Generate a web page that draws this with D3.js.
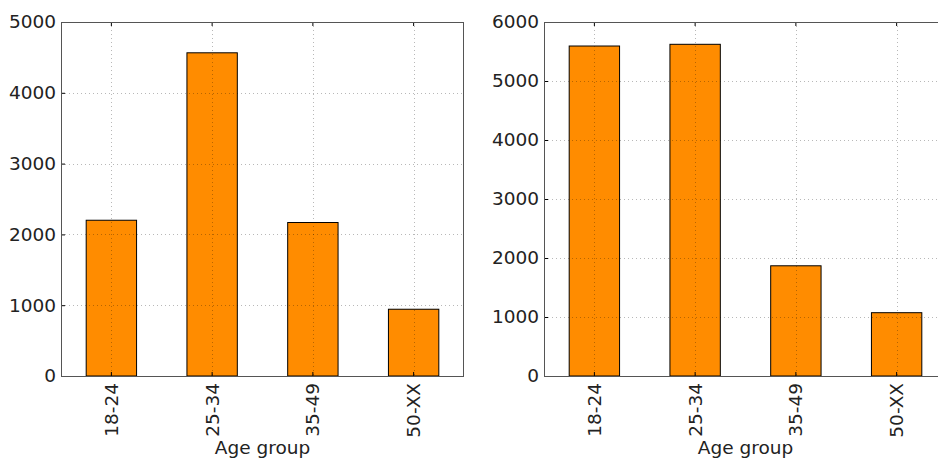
<!DOCTYPE html>
<html>
<head>
<meta charset="utf-8">
<script src="https://cdn.jsdelivr.net/npm/d3@7"></script>
<style>
  body { margin: 0; background: #fff; }
  svg { display: block; font-family: "DejaVu Sans", sans-serif; }
</style>
</head>
<body>
<svg id="chart" width="938" height="464"></svg>
<script>
// Age group counts for two panels
const categories = ["18-24", "25-34", "35-49", "50-XX"];
const leftValues = [2200, 4565, 2168, 943];
const rightValues = [5593, 5622, 1868, 1073];
const leftTicks = [0, 1000, 2000, 3000, 4000, 5000];
const rightTicks = [0, 1000, 2000, 3000, 4000, 5000, 6000];
const xLabel = "Age group";

const svg = d3.select("#chart");
const fontSize = 18.5;

function panel(x0, width, values, ticks, yMax) {
  const top = 22, bottom = 376;
  const g = svg.append("g");
  const x = d3.scaleBand().domain(categories).range([x0, x0 + width]).paddingInner(0.5).paddingOuter(0.25);
  const y = d3.scaleLinear().domain([0, yMax]).range([bottom, top]);
  const clipId = "clip" + Math.round(x0);
  svg.append("clipPath").attr("id", clipId)
    .append("rect").attr("x", x0).attr("y", top).attr("width", width).attr("height", bottom - top);

  // bars
  g.selectAll("rect.bar").data(values).join("rect")
    .attr("class", "bar")
    .attr("x", (d, i) => x(categories[i]))
    .attr("width", x.bandwidth())
    .attr("y", d => y(d))
    .attr("height", d => bottom - y(d))
    .attr("fill", "#ff8c00")
    .attr("stroke", "#000")
    .attr("stroke-width", 1);

  // dotted grid drawn over the bars
  const grid = g.append("g").attr("clip-path", `url(#${clipId})`);
  grid.selectAll("line.hg").data(ticks.slice(1, -1)).join("line")
    .attr("x1", x0).attr("x2", x0 + width)
    .attr("y1", d => Math.round(y(d)) + 0.5).attr("y2", d => Math.round(y(d)) + 0.5)
    .attr("stroke", "#000").attr("stroke-opacity", 0.28)
    .attr("stroke-dasharray", "1,3");
  grid.selectAll("line.vg").data(categories).join("line")
    .attr("y1", top).attr("y2", bottom)
    .attr("x1", d => Math.round(x(d) + x.bandwidth() / 2) + 0.5)
    .attr("x2", d => Math.round(x(d) + x.bandwidth() / 2) + 0.5)
    .attr("stroke", "#000").attr("stroke-opacity", 0.28)
    .attr("stroke-dasharray", "1,3");

  // y axis (ticks point inward)
  const yAxis = d3.axisLeft(y).tickValues(ticks).tickSize(-4).tickPadding(5).tickFormat(d3.format("d"));
  const ya = g.append("g").attr("transform", `translate(${x0},0)`).call(yAxis);
  ya.select(".domain").remove();
  ya.selectAll("line").attr("stroke", "#000");
  ya.selectAll("text").attr("font-size", fontSize).attr("fill", "#222").attr("font-family", "DejaVu Sans");

  // x axis with rotated labels
  const xAxis = d3.axisBottom(x).tickSize(-4).tickPadding(8);
  const xa = g.append("g").attr("transform", `translate(0,${bottom})`).call(xAxis);
  xa.select(".domain").remove();
  xa.selectAll("line").attr("stroke", "#000");
  xa.selectAll("text")
    .attr("font-size", fontSize).attr("fill", "#222").attr("font-family", "DejaVu Sans")
    .attr("transform", "rotate(-90)")
    .attr("text-anchor", "end")
    .attr("x", -7).attr("y", 0).attr("dy", "0.35em");

  // top ticks
  g.selectAll("line.tt").data(categories).join("line")
    .attr("x1", d => x(d) + x.bandwidth() / 2).attr("x2", d => x(d) + x.bandwidth() / 2)
    .attr("y1", top).attr("y2", top + 4).attr("stroke", "#000");

  // frame
  g.append("rect").attr("x", x0 + 0.5).attr("y", top + 0.5)
    .attr("width", width - 1).attr("height", bottom - top)
    .attr("fill", "none").attr("stroke", "#555").attr("stroke-width", 1);

  g.append("text").attr("x", x0 + width / 2).attr("y", 454)
    .attr("text-anchor", "middle").attr("font-size", fontSize).attr("fill", "#222")
    .text(xLabel);
}

panel(61, 403, leftValues, leftTicks, 5000);
panel(544, 403, rightValues, rightTicks, 6000);
</script>
</body>
</html>
